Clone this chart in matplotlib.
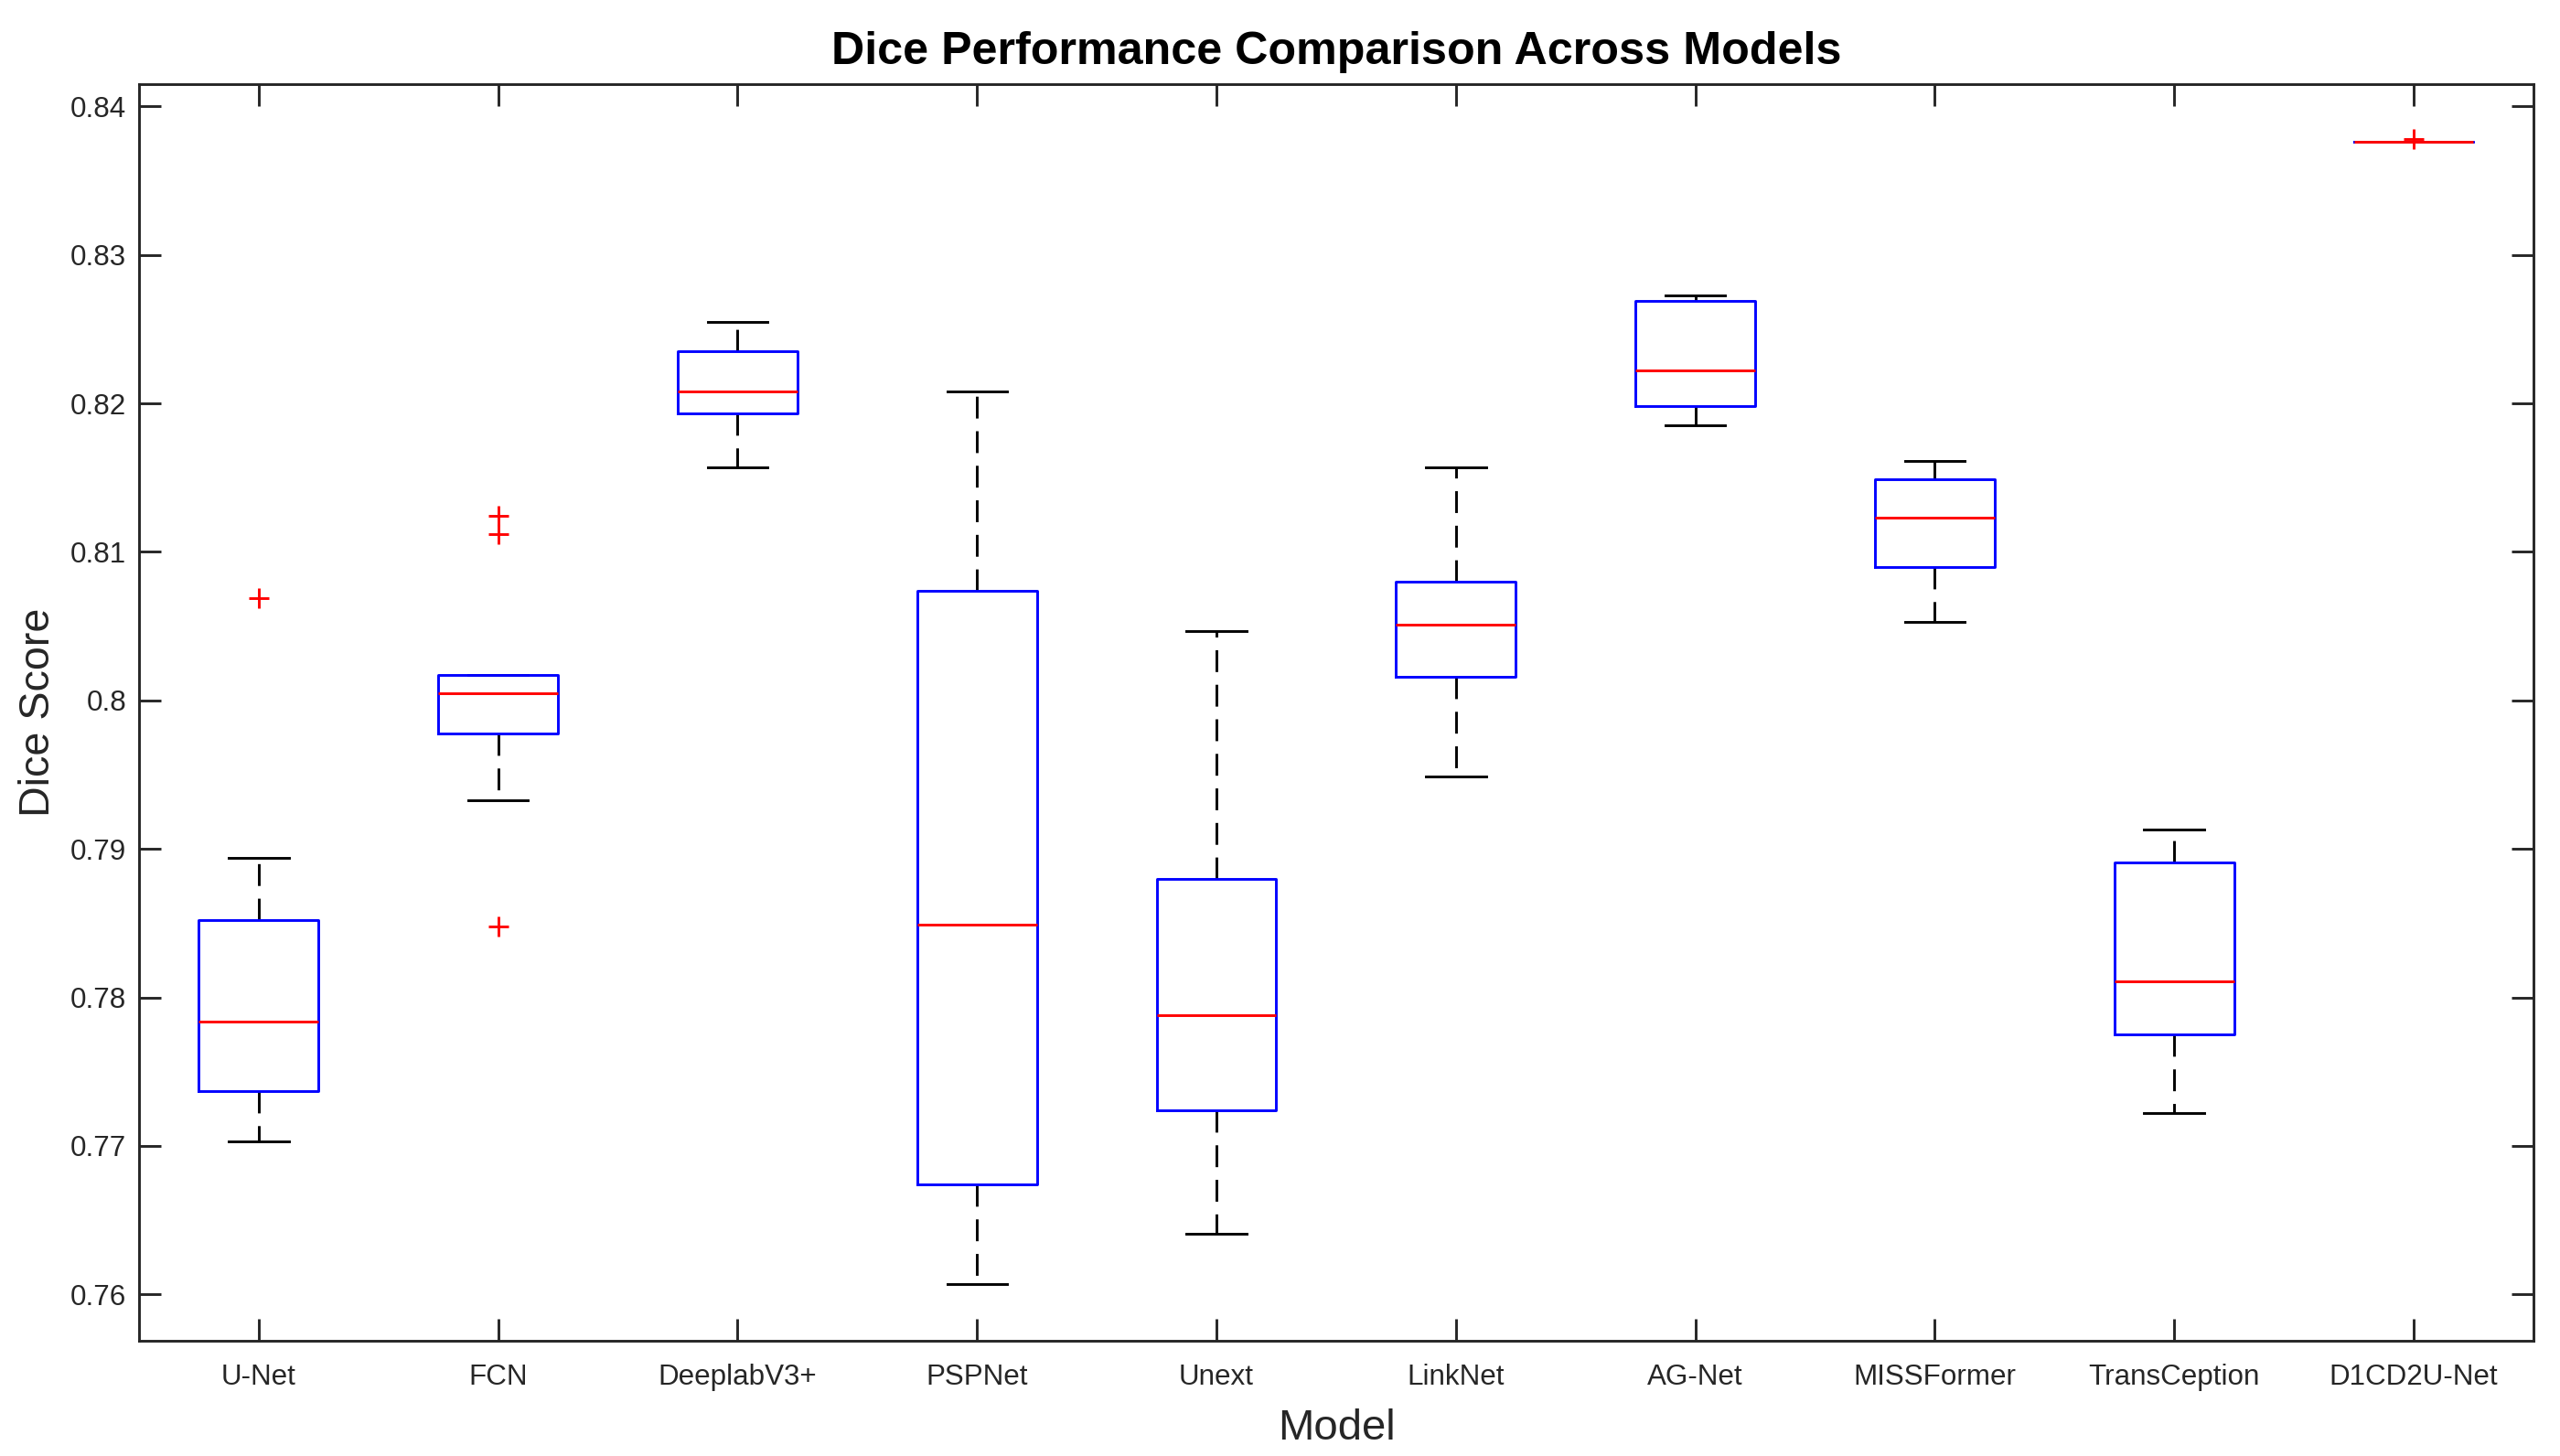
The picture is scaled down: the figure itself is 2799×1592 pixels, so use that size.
import matplotlib
matplotlib.use('Agg')
import matplotlib.pyplot as plt

plt.rcParams['font.family'] = ['Liberation Sans', 'DejaVu Sans']
plt.rcParams['lines.scale_dashes'] = False

# values (box stats per model)
models = ['U-Net', 'FCN', 'DeeplabV3+', 'PSPNet', 'Unext', 'LinkNet',
          'AG-Net', 'MISSFormer', 'TransCeption', 'D1CD2U-Net']
whisker_low = [0.7703, 0.7933, 0.8157, 0.7607, 0.7641, 0.7949, 0.8185, 0.8053, 0.7722, 0.83764]
q1 = [0.7737, 0.7978, 0.8193, 0.7674, 0.7724, 0.8016, 0.8198, 0.8090, 0.7775, 0.83764]
medians = [0.7784, 0.8005, 0.8208, 0.7849, 0.7788, 0.8051, 0.8222, 0.8123, 0.7811, 0.83764]
q3 = [0.7852, 0.8017, 0.8235, 0.8074, 0.7880, 0.8080, 0.8269, 0.8149, 0.7891, 0.83764]
whisker_high = [0.7894, 0.8017, 0.8255, 0.8208, 0.8047, 0.8157, 0.8273, 0.8161, 0.7913, 0.83764]
outliers = [[0.8069], [0.8124, 0.8112, 0.7848], [], [], [], [], [], [], [], [0.8378]]

stats = []
for i, name in enumerate(models):
    stats.append({'label': name, 'whislo': whisker_low[i], 'q1': q1[i], 'med': medians[i],
                  'q3': q3[i], 'whishi': whisker_high[i], 'fliers': outliers[i]})

fig = plt.figure(figsize=(13.995, 7.96), dpi=200)
ax = fig.add_axes([0.0543, 0.0793, 0.9353, 0.8627])

lw = 1.05
ax.bxp(stats, positions=range(1, len(models) + 1), widths=0.5, showfliers=True,
       boxprops=dict(color='blue', linewidth=lw, zorder=3),
       medianprops=dict(color='red', linewidth=lw, zorder=4),
       whiskerprops=dict(color='black', linewidth=lw, linestyle=(0, (8.6, 5.0)), zorder=2),
       capprops=dict(color='black', linewidth=lw, zorder=2),
       capwidths=0.25,
       flierprops=dict(marker='+', markeredgecolor='red', markersize=7.6, markeredgewidth=1.05,
                       linestyle='none', zorder=5))

ax.set_xlim(0.5, 10.5)
ax.set_ylim(0.75689, 0.84148)
ax.set_yticks([0.76, 0.77, 0.78, 0.79, 0.8, 0.81, 0.82, 0.83, 0.84])
ax.set_yticklabels(['0.76', '0.77', '0.78', '0.79', '0.8', '0.81', '0.82', '0.83', '0.84'])

for s in ax.spines.values():
    s.set_linewidth(1.05)
    s.set_color('#262626')
ax.tick_params(direction='in', length=8.6, width=1.05, color='#262626',
               top=True, right=True, labelsize=11.3, labelcolor='#262626')
ax.tick_params(axis='x', pad=9)
ax.tick_params(axis='y', pad=5)

ax.set_title('Dice Performance Comparison Across Models', fontsize=18.1,
             fontweight='bold', pad=8)
ax.set_xlabel('Model', fontsize=17, color='#262626', labelpad=7)
ax.set_ylabel('Dice Score', fontsize=16.8, color='#262626', labelpad=4.5)

fig.savefig('out.png', dpi=200)
